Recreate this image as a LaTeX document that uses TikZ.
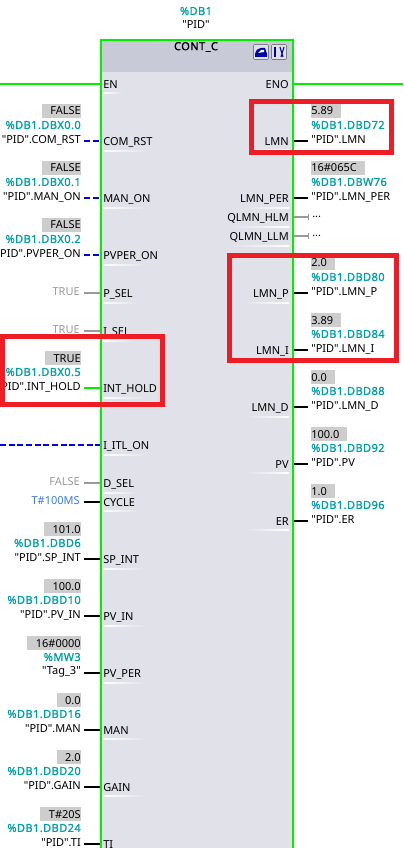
\documentclass[tikz,border=0pt]{standalone}
\usepackage{fontspec}
\setmainfont[Ligatures=TeXOff]{Noto Sans}
\newfontfamily\addrfont[FakeBold=1.2,LetterSpace=4,Ligatures=TeXOff]{Noto Sans}
\definecolor{fbdbody}{HTML}{E0E1E9}
\definecolor{fbdhead}{HTML}{C8CAD8}
\definecolor{fbdgreen}{HTML}{00F000}
\definecolor{fbdteal}{HTML}{00A0AA}
\definecolor{fbdred}{HTML}{EE1C25}
\definecolor{fbdcell}{HTML}{CDCDCD}
\definecolor{fbdgray}{HTML}{9A9A9A}
\definecolor{fbdblue}{HTML}{0000F0}
\definecolor{fbdtime}{HTML}{3A78E0}
\tikzset{
  pinfont/.style={font=\fontsize{8.25}{10}\selectfont, inner sep=0},
  pinleft/.style={pinfont, anchor=west},
  pinright/.style={pinfont, anchor=east},
  sigleft/.style={pinfont, anchor=east},
  sigright/.style={pinfont, anchor=west},
  addrleft/.style={sigleft, text=fbdteal, font=\fontsize{8.25}{10}\selectfont\addrfont},
  addrright/.style={sigright, text=fbdteal, font=\fontsize{8.25}{10}\selectfont\addrfont},
  cell/.style={fill=fbdcell, minimum height=14*.75pt, text height=6pt, text depth=0pt},
  wire/.style={black, line width=1.5pt},
  wiregreen/.style={fbdgreen, line width=1.5pt},
  wiregray/.style={fbdgray, line width=1.5pt},
  wiredash/.style={fbdblue, line width=1.5pt, dash pattern=on 4.5pt off 2pt},
  redbox/.style={draw=fbdred, line width=3.75pt},
  button/.style={draw=gray, fill=fbdbody, rounded corners=.7pt, minimum size=15*.75pt, inner sep=0},
}
\begin{document}
\begin{tikzpicture}[x=.75pt, y=-.75pt]
\useasboundingbox (0,0) rectangle (403,848);
\clip (0,0) rectangle (403,848);
% block
\fill[fbdbody] (100,39) rectangle (292,860);
\fill[fbdhead] (100,39) rectangle (292,72);
\node[addrleft, anchor=center] (dbaddr) at (196,11) {\%DB1};
\node[pinfont, anchor=center] (dbname) at (196,25) {"PID"};
\node[addrleft, anchor=center, text=black] (blockname) at (196,47) {CONT\_C};
\node[draw=fbdgreen, line width=1.5pt, inner sep=0, anchor=north west, minimum width=192*.75pt, minimum height=830*.75pt] (block) at (100,39) {};
% buttons
\node[button] (btnopen) at (261,52) {};
\node[button] (btnconf) at (279,52) {};
\fill[fbdblue!70!black] (255,57) -- (255,54) .. controls (256,50) and (258,48) .. (261,48) -- (265,48) -- (267,54) -- (267,57) -- cycle;
\fill[white] (258,53) -- (261,50) -- (264,50) -- (264,52) -- cycle;
\draw[fbdblue!70!black, line width=1.5pt] (275,47)--(275,57);
\draw[fbdblue!70!black, line width=.8pt] (280,47)--(283,57) (284,47)--(281,57);
% connections of EN and ENO
\node[pinleft] (pinEN) at (103,85) {EN};
\node[pinright] (pinENO) at (289,85) {ENO};
\coordinate (enfree) at (0,84);
\coordinate (enofree) at (403,84);
\draw[wiregreen] (enfree)--(enfree -| block.west);
\draw[wiregreen] (enofree)--(enofree -| block.east);
\coordinate (itlfree) at (0,445);
\draw[wiredash] (itlfree)--(itlfree -| block.west);
\node[pinleft] (pinITL) at (103,446) {I\_ITL\_ON};
\foreach \n/\y/\w in {EN/93/20, ITL/454/47} {
  \shade[left color=white, right color=fbdbody] (103,\y) rectangle ++(\w,1);
}
% inputs with value, address and symbol
\foreach \n/\y/\lab/\val/\addr/\sym/\st in {
  com/141/COM\_RST/FALSE/\%DB1.DBX0.0/"PID".COM\_RST/wiredash,
  man/198/MAN\_ON/FALSE/\%DB1.DBX0.1/"PID".MAN\_ON/wiredash,
  pvp/255/PVPER\_ON/FALSE/\%DB1.DBX0.2/"PID".PVPER\_ON/wiredash,
  hold/388/INT\_HOLD/TRUE/\%DB1.DBX0.5/"PID".INT\_HOLD/wiregreen,
  sp/559/SP\_INT/101.0/\%DB1.DBD6/"PID".SP\_INT/wire,
  pv/616/PV\_IN/100.0/\%DB1.DBD10/"PID".PV\_IN/wire,
  per/673/PV\_PER/16\#0000/\%MW3/"Tag\_3"/wire,
  mann/730/MAN/0.0/\%DB1.DBD16/"PID".MAN/wire,
  gain/787/GAIN/2.0/\%DB1.DBD20/"PID".GAIN/wire,
  ti/844/TI/T\#20S/\%DB1.DBD24/"PID".TI/wire} {
  \node[pinleft] (pin\n) at (103,\y+1) {\lab};
  \shade[left color=white, right color=fbdbody] (pin\n.south west)++(0,3) rectangle ++(45,1);
  \node[sigleft] (sym\n) at (81,\y-1) {\sym};
  \node[addrleft] (addr\n) at (81,\y-16) {\addr};
  \node[sigleft, cell] (val\n) at (81,\y-30) {\kern 6.5pt\val};
  \coordinate (free\n) at (84,\y);
  \draw[\st] (free\n)--(free\n -| block.west);
}
% inputs with constant
\foreach \n/\y/\lab/\val/\col/\st in {
  psel/293/P\_SEL/TRUE/fbdgray/wiregray,
  isel/331/I\_SEL/TRUE/fbdgray/wiregray,
  dsel/483/D\_SEL/FALSE/fbdgray/wiregray,
  cycle/502/CYCLE/T\#100MS/fbdtime/wire} {
  \node[pinleft] (pin\n) at (103,\y+1) {\lab};
  \shade[left color=white, right color=fbdbody] (pin\n.south west)++(0,3) rectangle ++(35,1);
  \node[sigleft, text=\col] (sym\n) at (80,\y-1) {\val};
  \coordinate (free\n) at (84,\y);
  \draw[\st] (free\n)--(free\n -| block.west);
}
% outputs
\foreach \n/\y/\lab/\val/\addr/\sym in {
  lmn/141/LMN/5.89/\%DB1.DBD72/"PID".LMN,
  lper/198/LMN\_PER/16\#065C/\%DB1.DBW76/"PID".LMN\_PER,
  lp/293/LMN\_P/2.0/\%DB1.DBD80/"PID".LMN\_P,
  li/350/LMN\_I/3.89/\%DB1.DBD84/"PID".LMN\_I,
  ld/407/LMN\_D/0.0/\%DB1.DBD88/"PID".LMN\_D,
  pvo/464/PV/100.0/\%DB1.DBD92/"PID".PV,
  er/521/ER/1.0/\%DB1.DBD96/"PID".ER} {
  \node[pinright] (pin\n) at (289,\y+1) {\lab};
  \shade[left color=fbdbody, right color=white] (pin\n.south east)++(-45,3) rectangle ++(45,1);
  \node[sigright] (sym\n) at (311,\y-1) {\sym};
  \node[addrright] (addr\n) at (311,\y-16) {\addr};
  \node[sigright, cell] (val\n) at (311,\y-30) {\val\kern 6pt};
  \coordinate (free\n) at (308,\y);
  \draw[wire] (free\n)--(free\n -| block.east);
}
\foreach \n/\y/\lab in {hlm/217/QLMN\_HLM, llm/236/QLMN\_LLM} {
  \node[pinright] (pin\n) at (289,\y+1) {\lab};
  \shade[left color=fbdbody, right color=white] (pin\n.south east)++(-60,3) rectangle ++(60,1);
  \node[sigright] (sym\n) at (312,\y) {...};
  \coordinate (free\n) at (308,\y);
  \draw[wiregray] (free\n)--(free\n -| block.east);
  \draw[fbdgray, line width=.75pt] (308,\y-3)--(308,\y+3);
}
% highlights
\draw[redbox] (251.5,101.5) rectangle (391.5,153);
\draw[redbox] (229.5,255.5) rectangle (396.5,360);
\draw[redbox] (2.5,336.5) rectangle (162.5,404);
\end{tikzpicture}
\end{document}
